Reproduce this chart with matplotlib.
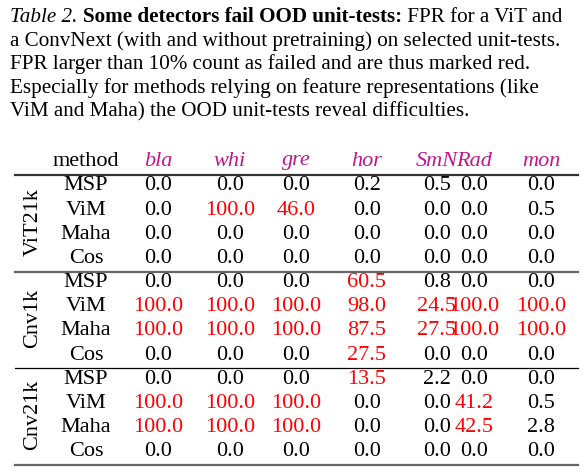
import matplotlib
matplotlib.use("Agg")
import matplotlib.pyplot as plt

methods = ["MSP", "ViM", "Maha", "Cos"]
tests = ["bla", "whi", "gre", "hor", "SmN", "Rad", "mon"]
groups = ["ViT21k", "Cnv1k", "Cnv21k"]
values = {
    "ViT21k": [[0.0, 0.0, 0.0, 0.2, 0.5, 0.0, 0.0],
               [0.0, 100.0, 46.0, 0.0, 0.0, 0.0, 0.5],
               [0.0, 0.0, 0.0, 0.0, 0.0, 0.0, 0.0],
               [0.0, 0.0, 0.0, 0.0, 0.0, 0.0, 0.0]],
    "Cnv1k": [[0.0, 0.0, 0.0, 60.5, 0.8, 0.0, 0.0],
              [100.0, 100.0, 100.0, 98.0, 24.5, 100.0, 100.0],
              [100.0, 100.0, 100.0, 87.5, 27.5, 100.0, 100.0],
              [0.0, 0.0, 0.0, 27.5, 0.0, 0.0, 0.0]],
    "Cnv21k": [[0.0, 0.0, 0.0, 13.5, 2.2, 0.0, 0.0],
               [100.0, 100.0, 100.0, 0.0, 0.0, 41.2, 0.5],
               [100.0, 100.0, 100.0, 0.0, 0.0, 42.5, 2.8],
               [0.0, 0.0, 0.0, 0.0, 0.0, 0.0, 0.0]],
}

W, H = 588, 476
fig = plt.figure(figsize=(W/100, H/100), dpi=100)
ax = fig.add_axes([0, 0, 1, 1])
ax.set_xlim(0, W); ax.set_ylim(H, 0); ax.axis("off")
FONT = "Liberation Serif"
fs = 15.2
tfs = 16
MAG = "#c0168c"

# caption
line1 = [("Table 2. ", "italic", "normal"),
         ("Some detectors fail OOD unit-tests:", "normal", "bold"),
         (" FPR for a ViT and", "normal", "normal")]
fig.canvas.draw()
r = fig.canvas.get_renderer()
x = 10
for s, st, wt in line1:
    t = ax.text(x, 17, s, fontsize=fs, family=FONT, style=st, weight=wt, va="center", ha="left")
    bb = t.get_window_extent(renderer=r)
    x += bb.width
cap = ["a ConvNext (with and without pretraining) on selected unit-tests.",
       "FPR larger than 10% count as failed and are thus marked red.",
       "Especially for methods relying on feature representations (like",
       "ViM and Maha) the OOD unit-tests reveal difficulties."]
for i, s in enumerate(cap):
    ax.text(10, 41 + 23.5 * i, s, fontsize=fs, family=FONT, va="center", ha="left")

# table
col_x = [158, 230, 296, 367, 437, 474, 541]
meth_x = 86
ax.text(meth_x, 161, "method", fontsize=tfs, family=FONT, ha="center", va="center")
for cx, t in zip(col_x, tests):
    ax.text(cx, 161, t, fontsize=tfs, family=FONT, style="italic", color=MAG, ha="center", va="center")

ax.plot([15, 578], [175, 175], color="#333333", lw=1.6)
ax.plot([15, 578], [272, 272], color="#666666", lw=1.6)
ax.plot([15, 578], [368, 368], color="black", lw=0.9)
ax.plot([15, 578], [465, 465], color="#666666", lw=1.6)

starts = [186, 282.5, 379]
step = 24.2
for g, y0 in zip(groups, starts):
    ax.text(33, y0 + 1.5 * step, g, fontsize=tfs, family=FONT, rotation=90, ha="center", va="center")
    for i, m in enumerate(methods):
        y = y0 + i * step
        ax.text(meth_x, y, m, fontsize=tfs, family=FONT, ha="center", va="center")
        for cx, v in zip(col_x, values[g][i]):
            ax.text(cx, y, f"{v:.1f}", fontsize=tfs, family=FONT, ha="center", va="center",
                    color="#ff0000" if v > 10 else "black")

fig.savefig("out.png", dpi=100)
